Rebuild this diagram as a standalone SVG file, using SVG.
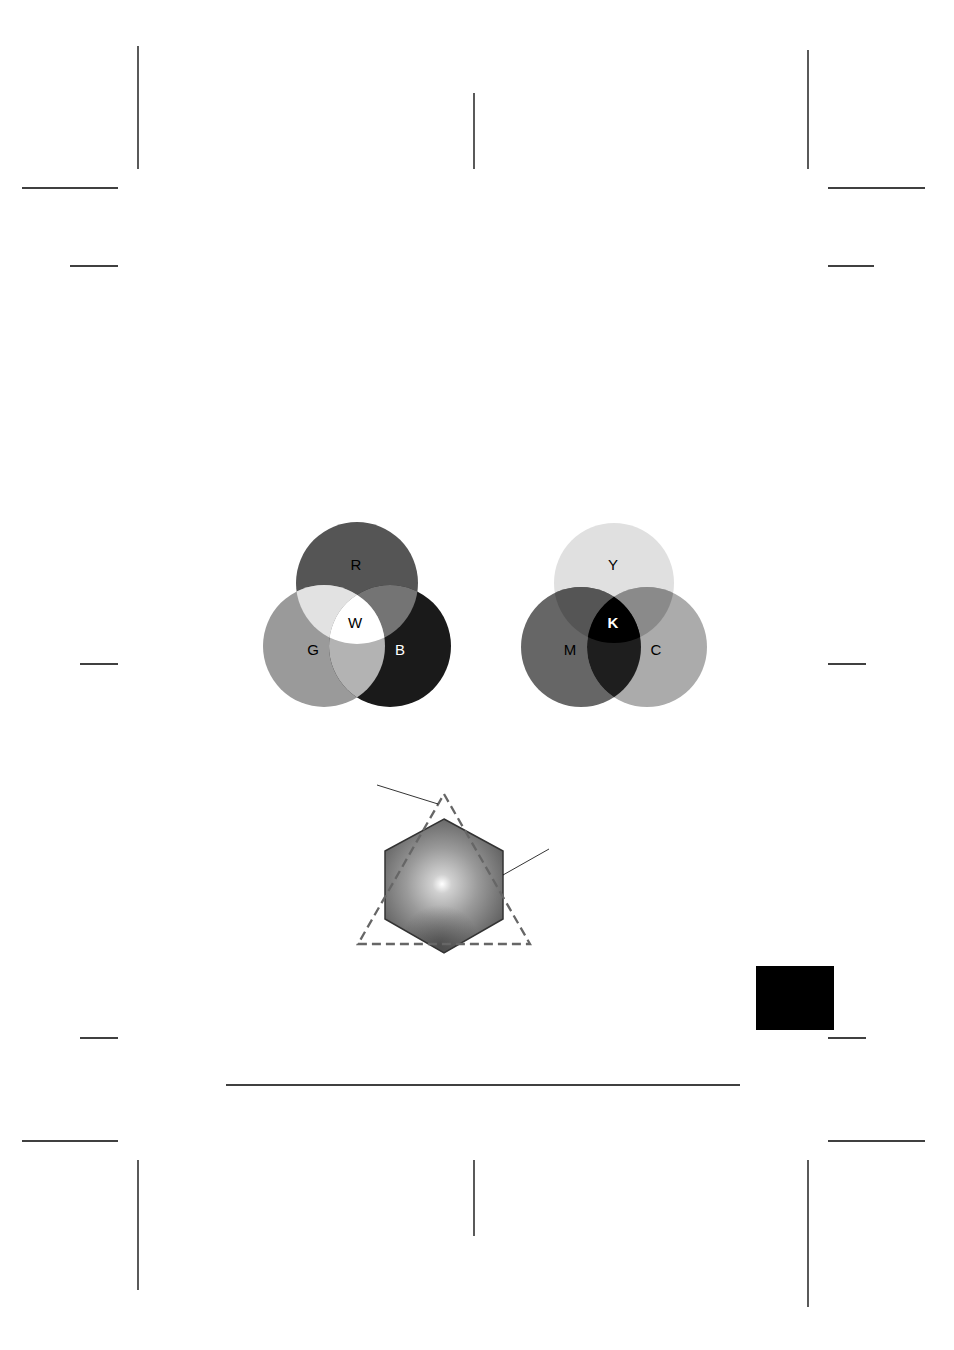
<svg xmlns="http://www.w3.org/2000/svg" width="954" height="1350" viewBox="0 0 954 1350">
<style>
.m{stroke:#000;stroke-width:1.3;fill:none}
.lbl{font-family:"Liberation Sans",Arial,sans-serif;font-size:15px;text-anchor:middle}
</style>
<defs>
<clipPath id="cR"><circle cx="357" cy="583" r="61"/></clipPath>
<clipPath id="cG"><circle cx="324" cy="646" r="61"/></clipPath>
<clipPath id="cB"><circle cx="390" cy="646" r="61"/></clipPath>
<clipPath id="cY"><circle cx="614" cy="583" r="60"/></clipPath>
<clipPath id="cM"><circle cx="581" cy="647" r="60"/></clipPath>
<clipPath id="cC"><circle cx="647" cy="647" r="60"/></clipPath>
<clipPath id="cHex"><polygon points="444,819 503,851 503,919 444,953 385,919 385,851"/></clipPath>
<radialGradient id="hg" cx="442" cy="884" r="80" fx="442" fy="884" gradientUnits="userSpaceOnUse">
<stop offset="0" stop-color="#ffffff"/>
<stop offset="0.12" stop-color="#d0d0d0"/>
<stop offset="0.45" stop-color="#9a9a9a"/>
<stop offset="1" stop-color="#505050"/>
</radialGradient>
<radialGradient id="hd" cx="440" cy="945" r="40" gradientUnits="userSpaceOnUse">
<stop offset="0" stop-color="#333" stop-opacity="0.55"/>
<stop offset="1" stop-color="#333" stop-opacity="0"/>
</radialGradient>
</defs>

<g id="cropmarks">
<line class="m" x1="138" y1="46" x2="138" y2="169"/>
<line class="m" x1="22" y1="188" x2="118" y2="188"/>
<line class="m" x1="70" y1="266" x2="118" y2="266"/>
<line class="m" x1="474" y1="93" x2="474" y2="169"/>
<line class="m" x1="808" y1="50" x2="808" y2="169"/>
<line class="m" x1="828" y1="188" x2="925" y2="188"/>
<line class="m" x1="828" y1="266" x2="874" y2="266"/>
<line class="m" x1="80" y1="664" x2="118" y2="664"/>
<line class="m" x1="828" y1="664" x2="866" y2="664"/>
<line class="m" x1="80" y1="1038" x2="118" y2="1038"/>
<line class="m" x1="828" y1="1038" x2="866" y2="1038"/>
<line class="m" x1="226" y1="1085" x2="740" y2="1085"/>
<line class="m" x1="22" y1="1141" x2="118" y2="1141"/>
<line class="m" x1="138" y1="1160" x2="138" y2="1290"/>
<line class="m" x1="474" y1="1160" x2="474" y2="1236"/>
<line class="m" x1="828" y1="1141" x2="925" y2="1141"/>
<line class="m" x1="808" y1="1160" x2="808" y2="1307"/>
</g>

<g id="tab"><rect x="756" y="966" width="78" height="64" fill="#000"/></g>

<g id="rgb">
<circle cx="357" cy="583" r="61" fill="#555"/>
<circle cx="324" cy="646" r="61" fill="#9a9a9a"/>
<circle cx="390" cy="646" r="61" fill="#1a1a1a"/>
<g clip-path="url(#cR)">
<circle cx="324" cy="646" r="61" fill="#e2e2e2"/>
<circle cx="390" cy="646" r="61" fill="#747474"/>
</g>
<g clip-path="url(#cG)">
<circle cx="390" cy="646" r="61" fill="#b3b3b3"/>
<g clip-path="url(#cR)"><circle cx="390" cy="646" r="61" fill="#fff"/></g>
</g>
<text class="lbl" x="356" y="570">R</text>
<text class="lbl" x="355" y="628">W</text>
<text class="lbl" x="313" y="655">G</text>
<text class="lbl" x="400" y="655" fill="#fff">B</text>
</g>

<g id="cmy">
<circle cx="614" cy="583" r="60" fill="#e0e0e0"/>
<circle cx="581" cy="647" r="60" fill="#666"/>
<circle cx="647" cy="647" r="60" fill="#ababab"/>
<g clip-path="url(#cY)">
<circle cx="581" cy="647" r="60" fill="#555"/>
<circle cx="647" cy="647" r="60" fill="#8a8a8a"/>
</g>
<g clip-path="url(#cM)">
<circle cx="647" cy="647" r="60" fill="#1e1e1e"/>
<g clip-path="url(#cY)"><circle cx="647" cy="647" r="60" fill="#000"/></g>
</g>
<text class="lbl" x="613" y="570">Y</text>
<text class="lbl" x="613" y="628" fill="#fff" font-weight="bold">K</text>
<text class="lbl" x="570" y="655">M</text>
<text class="lbl" x="656" y="655">C</text>
</g>

<g id="gamut">
<polygon points="444,819 503,851 503,919 444,953 385,919 385,851" fill="url(#hg)"/>
<g clip-path="url(#cHex)"><rect x="380" y="900" width="130" height="60" fill="url(#hd)"/></g>
<polygon points="444,819 503,851 503,919 444,953 385,919 385,851" fill="none" stroke="#333" stroke-width="1.5"/>
<polygon points="444,794 530,944 358,944" fill="none" stroke="#666" stroke-width="2.3" stroke-dasharray="9,5"/>
</g>

<g id="connectors">
<line x1="377" y1="785" x2="438" y2="804" stroke="#000" stroke-width="0.8"/>
<line x1="503" y1="875" x2="549" y2="849" stroke="#000" stroke-width="0.8"/>
</g>
</svg>
